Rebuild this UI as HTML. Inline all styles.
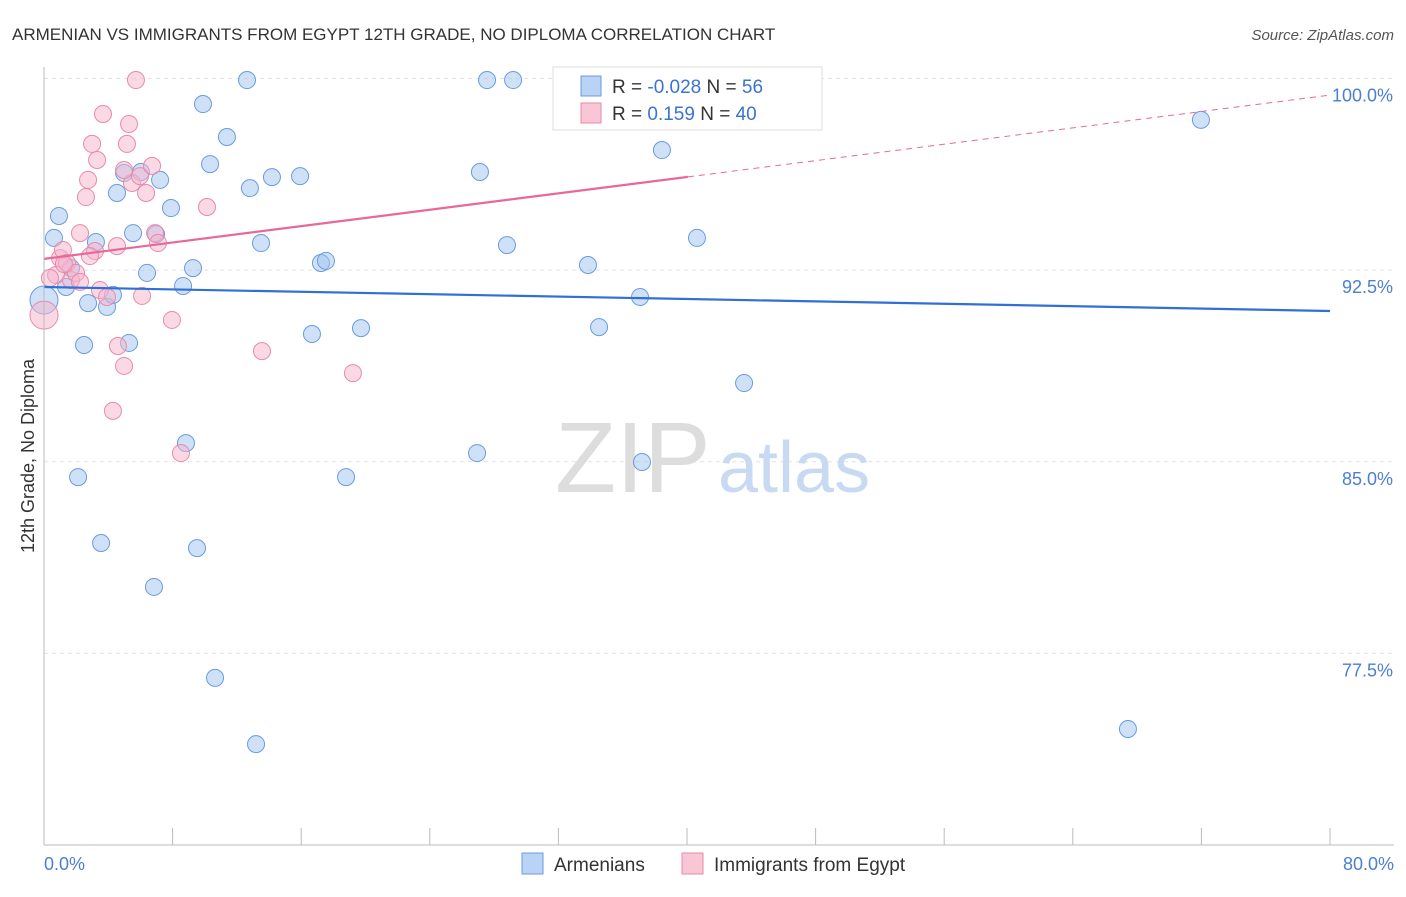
<!DOCTYPE html>
<html><head><meta charset="utf-8"><style>
body{margin:0;background:#fff;font-family:"Liberation Sans",sans-serif}
svg text{font-family:"Liberation Sans",sans-serif}
</style></head><body>
<svg id="chart" width="1406" height="892" xmlns="http://www.w3.org/2000/svg">
<text x="12" y="40" font-size="17" fill="#333">ARMENIAN VS IMMIGRANTS FROM EGYPT 12TH GRADE, NO DIPLOMA CORRELATION CHART</text>
<text x="1394" y="40" font-size="15" fill="#555" font-style="italic" text-anchor="end">Source: ZipAtlas.com</text>
<g id="grid"></g>
<text x="555" y="492" font-size="100" fill="#ddd" font-family="Liberation Serif,serif">ZIP</text>
<text x="718" y="492" font-size="72" fill="#c8daf2">atlas</text>
<g id="pts"></g>
<g id="trends"></g>
<line x1="44" y1="67" x2="44" y2="845" stroke="#bbb"/>
<line x1="44" y1="845" x2="1394" y2="845" stroke="#bbb"/>
<text x="44" y="870" font-size="18" fill="#4a7fd4">0.0%</text>
<text x="1394" y="870" font-size="18" fill="#4a7fd4" text-anchor="end">80.0%</text>
<text transform="translate(34,456) rotate(-90)" font-size="18" fill="#333" text-anchor="middle">12th Grade, No Diploma</text>
<g>
<rect x="553" y="67" width="269" height="63" fill="#fff" stroke="#ddd"/>
<rect x="581" y="76" width="20" height="20" fill="#b8d3f5" stroke="#6a9be0"/>
<rect x="581" y="103" width="20" height="20" fill="#f9c6d6" stroke="#e88aaa"/>
<text x="612" y="93" font-size="19" fill="#333">R = <tspan fill="#3b73d1">-0.028</tspan>   N = <tspan fill="#3b73d1">56</tspan></text>
<text x="612" y="120" font-size="19" fill="#333">R =   <tspan fill="#3b73d1">0.159</tspan>   N = <tspan fill="#3b73d1">40</tspan></text>
</g>
<g>
<rect x="522" y="853" width="21" height="21" fill="#b8d3f5" stroke="#6a9be0"/>
<text x="554" y="871" font-size="19" fill="#333">Armenians</text>
<rect x="682" y="853" width="21" height="21" fill="#f9c6d6" stroke="#e88aaa"/>
<text x="714" y="871" font-size="19" fill="#333">Immigrants from Egypt</text>
</g>
</svg>
<script>
const yTicks=[100,92.5,85,77.5];
const yTickLabels=["100.0%","92.5%","85.0%","77.5%"];
const xTicks=[0,8,16,24,32,40,48,56,64,72,80];
const blueX=[0,0.93,0.62,1.37,1.68,2.12,2.49,2.74,3.23,3.55,3.92,4.29,4.54,4.98,5.29,5.54,6.03,6.41,6.84,6.97,7.22,7.9,8.65,8.83,9.27,9.52,9.89,10.33,10.64,11.38,12.63,12.81,13.19,13.5,14.18,15.93,16.67,17.23,17.54,18.79,19.72,26.94,27.12,27.56,28.8,29.18,32.78,33.84,34.53,37.08,37.2,38.44,40.62,43.55,67.43,71.97];
const blueY=[91.33,94.62,93.76,91.84,92.58,84.4,89.57,91.21,93.6,81.82,91.06,91.53,95.52,96.3,89.65,93.95,96.34,92.39,80.1,93.91,96.03,94.93,91.88,85.73,92.58,81.62,99,96.65,76.54,97.71,99.94,95.71,73.95,93.56,96.14,96.18,90,92.78,92.86,84.4,90.23,85.34,96.34,99.94,93.48,99.94,99.94,92.7,90.27,91.45,84.99,97.2,93.76,88.08,74.54,98.38];
const pinkX=[0,0.75,1,1.18,1.43,1.68,1.99,2.24,2.61,2.74,2.99,3.3,3.17,3.48,3.67,3.92,4.29,4.54,4.6,4.98,5.16,5.29,5.47,5.72,5.97,6.1,6.35,6.72,6.91,7.09,7.96,8.52,10.14,13.56,19.22,2.24,1.24,0.37,2.86,4.98];
const pinkY=[90.74,92.31,92.97,93.29,92.78,92.11,92.39,93.95,95.36,96.03,97.44,96.81,93.25,91.72,98.61,91.45,86.99,93.44,89.53,88.75,97.44,98.22,95.91,99.94,96.18,91.49,95.52,96.58,93.95,93.56,90.55,85.34,94.97,89.33,88.47,92.04,92.74,92.19,93.05,96.42];
const blueTrend=[91.84,90.9];
const pinkTrend=[92.94,99.35];
const pinkSolidEnd=40.06;
const X=v=>44+v*16.075, Y=v=>845-(v-70)*25.55;
const NS="http://www.w3.org/2000/svg";
function mk(t,a,p){const e=document.createElementNS(NS,t);for(const k in a)e.setAttribute(k,a[k]);p.appendChild(e);return e;}
const grid=document.getElementById('grid');
yTicks.forEach((v,i)=>{
 const l=mk('line',{x1:44,x2:1394,y1:Y(v),y2:Y(v),stroke:'#e2e2e2','stroke-dasharray':'4,4'},grid);
 
 
 const t=mk('text',{x:1393,y:Y(v)+23,'font-size':18,fill:'#4a7fd4','text-anchor':'end'},grid);
 t.textContent=yTickLabels[i];
 
 
});
xTicks.forEach(v=>{
 const l=mk('line',{x1:X(v),x2:X(v),y1:828,y2:845,stroke:'#bbb'},grid);
 
 
});
const pts=document.getElementById('pts');
blueX.forEach((x,i)=>{
 const c=mk('circle',{cx:X(x),cy:Y(blueY[i]),r:x===0?14:8.5,fill:'rgba(160,196,240,0.5)',stroke:'#6a9be0','stroke-width':1},pts);
 
 
});
pinkX.forEach((x,i)=>{
 const c=mk('circle',{cx:X(x),cy:Y(pinkY[i]),r:x===0?14:8.5,fill:'rgba(246,180,204,0.5)',stroke:'#e88aaa','stroke-width':1},pts);
 
 
});
const tr=document.getElementById('trends');
const b=mk('line',{x1:X(0),y1:Y(blueTrend[0]),x2:X(80),y2:Y(blueTrend[1]),stroke:'#2f6fd6','stroke-width':2.2},tr);


const pv=x=>pinkTrend[0]+(pinkTrend[1]-pinkTrend[0])*x/80;
const p1=mk('line',{x1:X(0),y1:Y(pv(0)),x2:X(pinkSolidEnd),y2:Y(pv(pinkSolidEnd)),stroke:'#e8689a','stroke-width':2.2},tr);


const p2=mk('line',{x1:X(pinkSolidEnd),y1:Y(pv(pinkSolidEnd)),x2:X(80),y2:Y(pv(80)),stroke:'#e8689a','stroke-width':1,'stroke-dasharray':'6,5'},tr);


</script>
</body></html>
